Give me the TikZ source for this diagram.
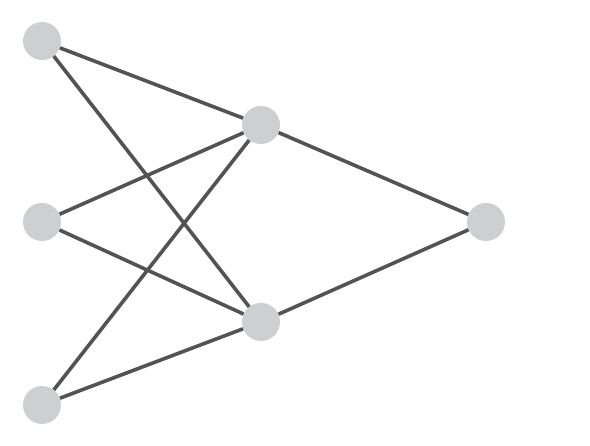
\documentclass[tikz,border=0pt]{standalone}
\begin{document}
\begin{tikzpicture}[x=1pt,y=-1pt,
  neuron/.style={circle,fill=nodegray,draw=none,minimum size=38pt,inner sep=0pt},
  link/.style={draw=linkgray,line width=3.6pt}]
\definecolor{nodegray}{RGB}{206,207,209}
\definecolor{linkgray}{RGB}{83,83,83}
\useasboundingbox[fill=white] (0,0) rectangle (590,446);
\node[neuron] (i1) at (42,41) {};
\node[neuron] (i2) at (42,222) {};
\node[neuron] (i3) at (42,405) {};
\node[neuron] (h1) at (261,125) {};
\node[neuron] (h2) at (261,322) {};
\node[neuron] (o) at (486,222) {};
\foreach \a in {i1,i2,i3}{
  \foreach \b in {h1,h2}{
    \draw[link] (\a) -- (\b);
  }
}
\draw[link] (h1) -- (o);
\draw[link] (h2) -- (o);
\end{tikzpicture}
\end{document}
